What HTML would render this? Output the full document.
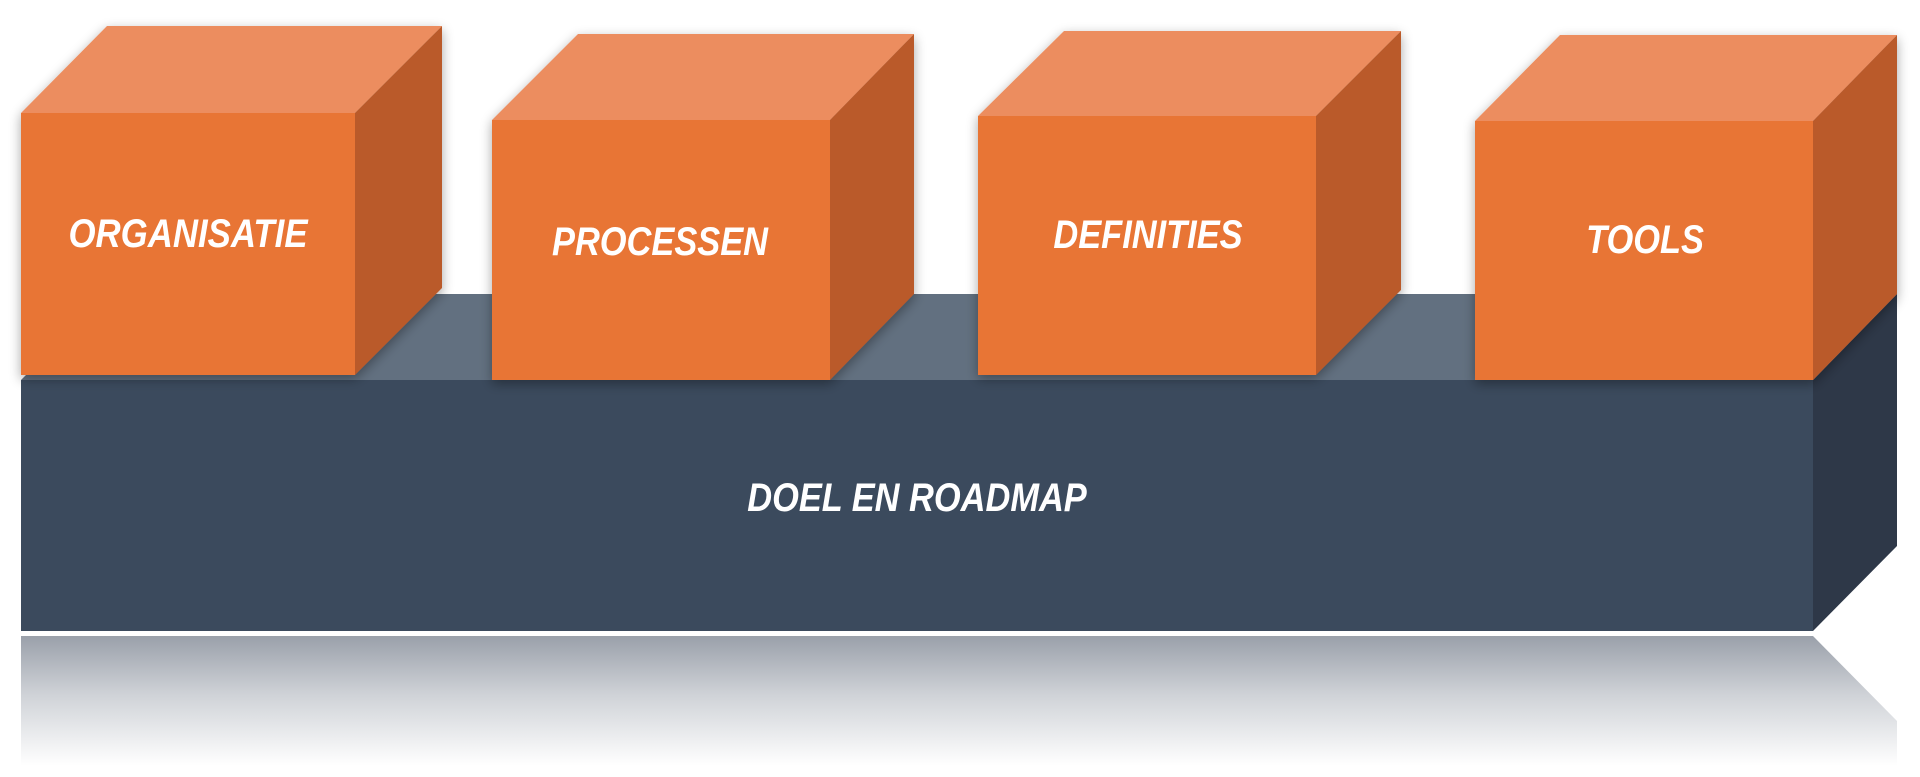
<!DOCTYPE html>
<html><head><meta charset="utf-8"><style>
html,body{margin:0;padding:0;background:#fff;width:1920px;height:777px;overflow:hidden}
svg{display:block}
text{font-family:"Liberation Sans",Arial,sans-serif;font-weight:bold;font-style:italic;fill:#fff;font-size:40px}
</style></head><body>
<svg width="1920" height="777" viewBox="0 0 1920 777" xmlns="http://www.w3.org/2000/svg">
<defs>
<linearGradient id="refl" x1="0" y1="0" x2="0" y2="1">
<stop offset="0" stop-color="#9aa0aa"/>
<stop offset="0.45" stop-color="#cfd2d7"/>
<stop offset="1" stop-color="#ffffff"/>
</linearGradient>
<filter id="sh" x="-10%" y="-10%" width="120%" height="130%">
<feGaussianBlur in="SourceAlpha" stdDeviation="6"/>
<feOffset dx="0" dy="4"/>
<feComponentTransfer><feFuncA type="linear" slope="0.35"/></feComponentTransfer>
<feMerge><feMergeNode/><feMergeNode in="SourceGraphic"/></feMerge>
</filter>
</defs>
<polygon points="21,636 1813,636 1897,721 1897,766 21,766" fill="url(#refl)"/>
<polygon points="107,294 1897,294 1813,380 21,380" fill="#627080"/>
<polygon points="1813,380 1897,294 1897,546 1813,631" fill="#2e3848"/>
<rect x="21" y="380" width="1792" height="251" fill="#3b4a5d"/>
<text transform="translate(917,511) scale(0.86,1)" text-anchor="middle">DOEL EN ROADMAP</text>
<g filter="url(#sh)">
<polygon points="21,113 107,26 442,26 355,113" fill="#ec8d5f"/>
<polygon points="355,113 442,26 442,288 355,375" fill="#ba5a2b"/>
<rect x="21" y="113" width="334" height="262" fill="#e87435"/>
</g>
<text transform="translate(188,247) scale(0.87,1)" text-anchor="middle">ORGANISATIE</text>
<g filter="url(#sh)">
<polygon points="492,120 578,34 914,34 830,120" fill="#ec8d5f"/>
<polygon points="830,120 914,34 914,294 830,380" fill="#ba5a2b"/>
<rect x="492" y="120" width="338" height="260" fill="#e87435"/>
</g>
<text transform="translate(660,255) scale(0.86,1)" text-anchor="middle">PROCESSEN</text>
<g filter="url(#sh)">
<polygon points="978,116 1064,31 1401,31 1316,116" fill="#ec8d5f"/>
<polygon points="1316,116 1401,31 1401,290 1316,375" fill="#ba5a2b"/>
<rect x="978" y="116" width="338" height="259" fill="#e87435"/>
</g>
<text transform="translate(1148,248) scale(0.86,1)" text-anchor="middle">DEFINITIES</text>
<g filter="url(#sh)">
<polygon points="1475,121 1560,35 1897,35 1813,121" fill="#ec8d5f"/>
<polygon points="1813,121 1897,35 1897,294 1813,380" fill="#ba5a2b"/>
<rect x="1475" y="121" width="338" height="259" fill="#e87435"/>
</g>
<text transform="translate(1645,253) scale(0.86,1)" text-anchor="middle">TOOLS</text>
</svg>
</body></html>
